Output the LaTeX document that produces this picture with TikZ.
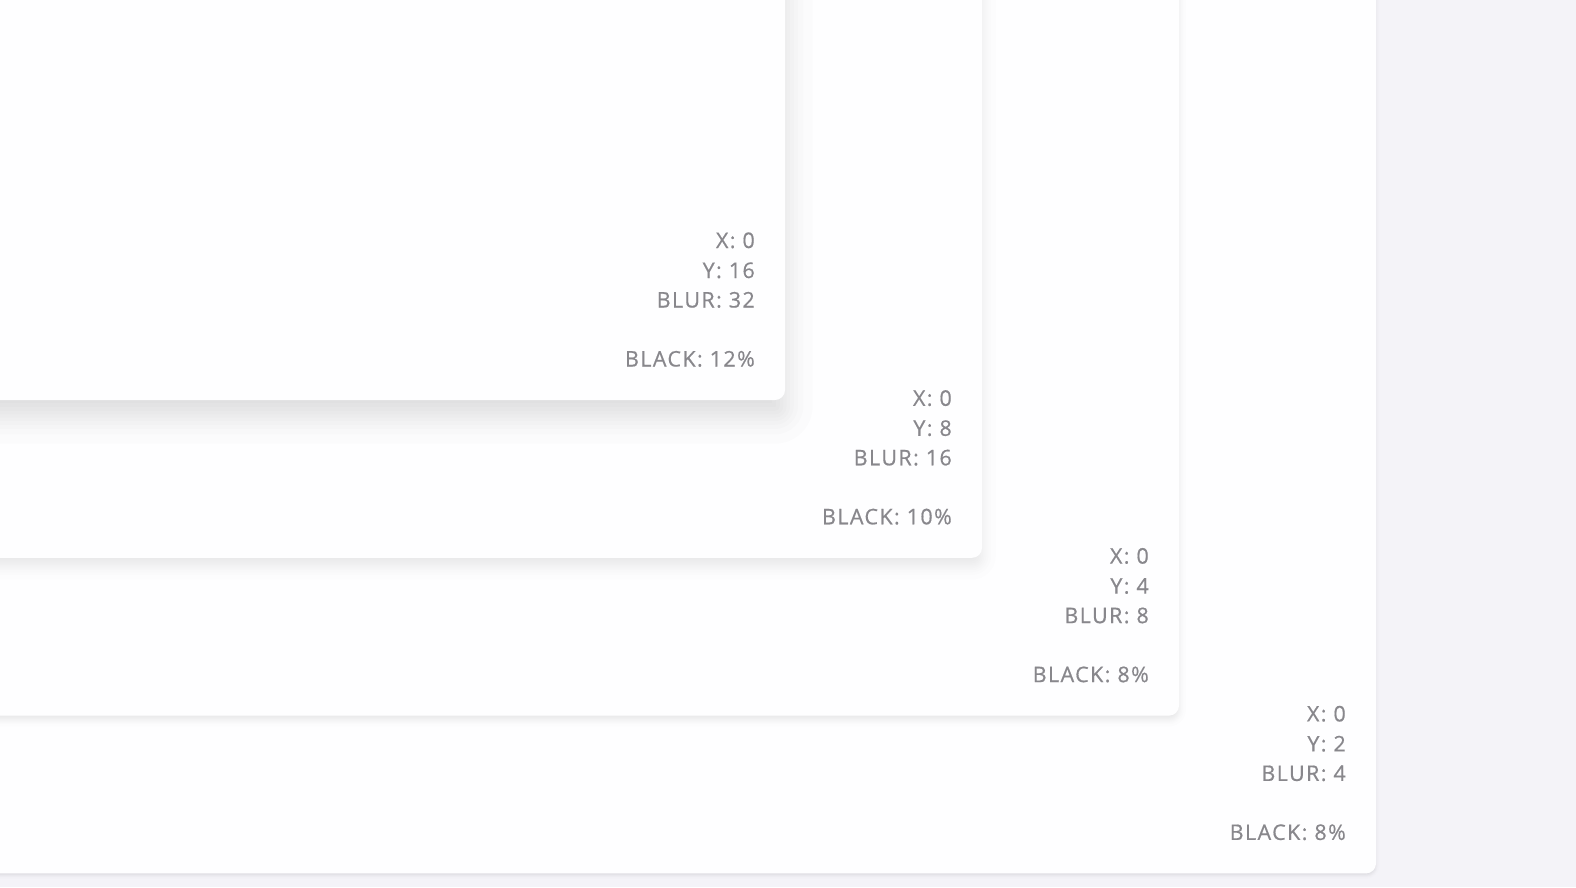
\documentclass[tikz,border=0pt]{standalone}
\usepackage{fontspec}
\setmainfont{Open Sans}[LetterSpace=6.5, FakeBold=0.6]
\definecolor{bgcol}{RGB}{244,243,248}
\definecolor{cardcol}{RGB}{254,254,255}
\definecolor{txtcol}{RGB}{136,135,140}
\tikzset{
  lbl/.style={inner sep=0pt, anchor=base east, text=txtcol, font=\fontsize{21.5}{26}\selectfont},
  cardbox/.style={fill=cardcol},
}
\begin{document}
\begin{tikzpicture}[x=1pt,y=-1pt]
\fill[bgcol] (0,0) rectangle (1576,887);
\clip (0,0) rectangle (1576,887);
\foreach \i/\dy/\bl/\op/\bk in {3/2/4/0.08/8, 2/4/8/0.08/8, 1/8/16/0.10/10, 0/16/32/0.12/12}{
  \pgfmathsetmacro{\R}{785+197*\i}
  \pgfmathsetmacro{\B}{400+157.8*\i}
  \pgfmathsetmacro{\sg}{\bl/2}
  \pgfmathsetmacro{\la}{1-(1-\op)^(1/12)}
  \foreach \z in {-1.732,-1.150,-0.812,-0.549,-0.319,-0.105,0.105,0.319,0.549,0.812,1.150,1.732}{
    \pgfmathsetmacro{\e}{\z*\sg}
    \pgfmathsetmacro{\rc}{max(10+\e,0.5)}
    \fill[black, fill opacity=\la, rounded corners=\rc pt]
      (-300,-300) rectangle ({\R+\e},{\B+\dy+\e});
  }
  \fill[cardbox, rounded corners=10pt] (-300,-300) rectangle (\R,\B);
  \node[lbl] (x\i) at ({\R-30},{\B-152}) {X: 0};
  \node[lbl] (y\i) at ({\R-30},{\B-122}) {Y: \dy};
  \node[lbl] (b\i) at ({\R-30},{\B-92.5}) {BLUR: \bl};
  \node[lbl] (k\i) at ({\R-30},{\B-33.5}) {BLACK: \bk\%};
}
\end{tikzpicture}
\end{document}
